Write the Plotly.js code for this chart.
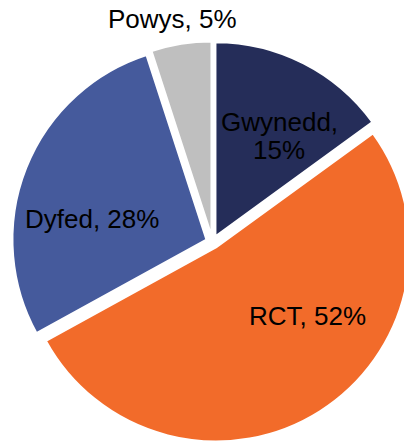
<!DOCTYPE html>
<html><head><meta charset="utf-8">
<script src="https://cdn.plot.ly/plotly-3.0.1.min.js"></script>
<style>html,body{margin:0;padding:0;background:#fff;overflow:hidden;width:404px;height:441px}</style>
</head><body><div id="chart" style="width:413px;height:443px"></div>
<script>
const labels = ["Gwynedd", "RCT", "Dyfed", "Powys"];
const values = [15, 52, 28, 5];
const colors = ["#252D59", "#F26B2A", "#455A9C", "#BFBFBF"];
const textLabels = ["Gwynedd,<br>15%", "RCT, 52%", "Dyfed, 28%", "Powys, 5%"];

// label centre positions in page pixels (layout only)
const labelPos = [[279, 136], [307, 316], [92, 219], [172, 19.5]];
const lineGap = 28;

// the figure is slightly larger than the window, so the pie is clipped at the right/bottom edge like the original
const W = 413, H = 443;
const M = {l: 12, r: 0, t: 41, b: 0};
const pw = W - M.l - M.r, ph = H - M.t - M.b;
const font = {family: "Liberation Sans, Arial, sans-serif", size: 26, color: "#000000"};

const annotations = [];
textLabels.forEach((t, i) => {
  const lines = t.split("<br>");
  lines.forEach((ln, k) => {
    const px = labelPos[i][0];
    const py = labelPos[i][1] + (k - (lines.length - 1) / 2) * lineGap;
    annotations.push({
      text: ln, showarrow: false, xref: "paper", yref: "paper",
      x: (px - M.l) / pw, y: 1 - (py - M.t) / ph,
      xanchor: "center", yanchor: "middle", font: font
    });
  });
});

Plotly.newPlot("chart", [{
  type: "pie",
  labels: labels,
  values: values,
  textinfo: "none",
  sort: false,
  direction: "clockwise",
  rotation: 0,
  pull: [0.0335, 0.0335, 0.0335, 0.0335],
  marker: {colors: colors, line: {color: "#ffffff", width: 2}},
  showlegend: false,
  hoverinfo: "none"
}], {
  width: W, height: H,
  margin: M,
  paper_bgcolor: "#ffffff",
  showlegend: false,
  annotations: annotations
}, {displayModeBar: false, staticPlot: true});
</script></body></html>
